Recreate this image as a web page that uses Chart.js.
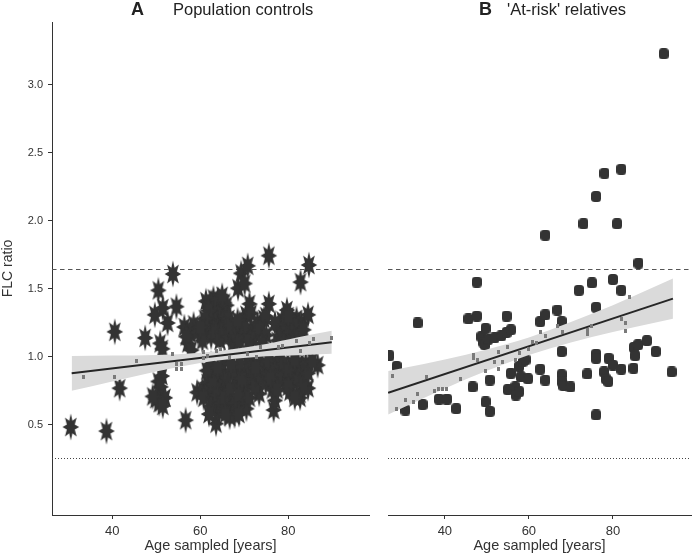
<!DOCTYPE html>
<html>
<head>
<meta charset="utf-8">
<script src="https://cdn.jsdelivr.net/npm/chart.js@4.4.0/dist/chart.umd.min.js"></script>
<style>
body { margin: 0; background: #fff; width: 697px; height: 555px; position: relative; overflow: hidden; font-family: "Liberation Sans", Arial, sans-serif; color: #222; }
canvas { position: absolute; top: 0; }
#chartA { left: 0; }
#chartB { left: 378px; }
.ttl { position: absolute; top: 1px; font-size: 16.5px; line-height: 1; white-space: nowrap; }
.ttl.big { top: 0; font-size: 18px; font-weight: bold; }
</style>
</head>
<body>
<canvas id="chartA" width="375" height="555"></canvas>
<canvas id="chartB" width="319" height="555"></canvas>
<div class="ttl big" style="left:131px">A</div>
<div class="ttl" style="left:173px">Population controls</div>
<div class="ttl big" style="left:479px">B</div>
<div class="ttl" style="left:507px">'At-risk' relatives</div>
<script>
//*************** data *******************

// population controls: [age, FLC ratio]
var controlsPoints = [
  [30.6,0.485],[38.7,0.455],[40.6,1.185],[41.7,0.77],[47.5,1.14],
  [49.7,1.31],[50.5,1.49],[51.5,1.36],[52.6,1.25],[53.8,1.61],[54.6,1.37],[50.9,1.10],[51.4,1.06],
  [50.5,0.82],[51.3,0.86],[51.0,0.78],[49.9,0.69],[50.7,0.66],[52.0,0.70],[51.5,0.64],[49.2,0.71],
  [56.7,0.535],[56.4,1.22],[57.2,1.10],[57.8,1.17],[58.5,1.24],[56.8,1.15],[58.0,1.05],
  [59.3,0.74],[60.5,0.76],[61.6,0.81],[62.0,0.74],[62.7,0.88],[63.0,0.70],[63.8,0.66],[63.6,0.51],
  [64.5,0.82],[65.3,0.78],[65.0,0.90],[66.0,0.72],[66.7,0.56],[67.5,0.68],[67.0,0.61],[68.0,0.80],
  [68.5,0.90],[69.0,0.635],[69.7,0.76],[70.4,0.88],[70.0,0.70],[71.0,0.80],[71.5,0.93],[72.7,0.855],
  [73.4,0.73],[72.0,0.95],[66.0,0.62],[67.8,0.57],[64.0,0.60],[62.5,0.95],[65.5,0.98],
  [60.8,0.70],[61.5,0.90],[62.5,0.64],[63.0,0.80],[64.0,0.72],[64.8,0.66],[65.5,0.70],[66.2,0.85],
  [66.8,0.76],[67.3,0.90],[68.0,0.66],[68.7,0.72],[69.5,0.84],[70.5,0.62],[71.2,0.70],[71.8,0.86],
  [70.8,0.95],[69.0,0.96],[67.0,0.95],[64.0,0.92],[62.0,0.58],[65.7,0.58],[68.8,0.58],[72.5,0.78],[73.8,0.85],
  [61.3,1.41],[62.0,1.36],[63.0,1.43],[64.5,1.37],[62.0,1.30],[63.5,1.25],[64.5,1.30],[65.5,1.40],
  [62.5,1.40],[63.5,1.35],[64.0,1.42],[65.0,1.33],[66.0,1.38],[62.8,1.27],[66.2,1.22],[63.0,1.22],
  [61.8,1.34],[65.8,1.30],
  [61.5,1.20],[62.5,1.15],[63.5,1.18],[64.5,1.12],[65.5,1.20],[66.5,1.15],[67.5,1.20],[68.5,1.12],
  [69.5,1.18],[70.5,1.15],[71.5,1.20],[72.0,1.13],[66.5,1.28],[67.5,1.10],[69.0,1.25],[70.4,1.31],
  [71.2,1.39],[71.6,1.32],[61.0,1.28],[65.0,1.45],
  [59.5,1.18],[60.5,1.12],[60.0,1.22],[68.0,1.16],[69.0,1.12],[70.0,1.22],[71.0,1.12],[72.5,1.18],
  [73.0,1.25],[67.0,1.23],[68.5,1.27],
  [68.6,1.505],[69.3,1.615],[70.8,1.67],[70.1,1.54],[75.6,1.745],[84.7,1.676],[82.8,1.55],
  [74.5,1.28],[75.6,1.39],[74.9,1.30],[73.5,1.20],[75.0,1.16],[74.0,1.10],
  [78.6,1.27],[79.7,1.345],[80.8,1.27],[81.9,1.28],[78.0,1.20],[79.0,1.15],[80.0,1.22],[81.0,1.15],
  [82.0,1.20],[83.0,1.25],[77.5,1.12],[83.0,1.12],[84.5,1.31],
  [77.0,1.25],[78.5,1.16],[79.5,1.24],[80.5,1.18],[81.5,1.24],[82.5,1.16],[83.5,1.20],[80.0,1.30],
  [79.0,1.10],[81.0,1.10],
  [74.9,0.93],[76.4,0.95],[78.6,0.93],[80.8,0.95],[82.3,0.95],[74.9,0.81],[76.4,0.76],[77.8,0.83],
  [79.3,0.88],[76.7,0.61],[77.0,0.68],[80.4,0.745],[82.7,0.70],[82.7,0.73],[84.5,0.77],[86.7,0.94],
  [81.0,0.85],[83.0,0.88],[84.0,0.95],[78.0,0.99],[75.5,0.88],[73.5,0.98],[72.5,0.92],[79.5,0.80],
  [75.5,0.97],[77.0,0.90],[78.0,0.86],[79.0,0.95],[80.0,0.90],[81.5,0.98],[82.0,0.82],[83.5,0.80],
  [84.5,0.88],[85.5,0.97],[76.0,0.84],[77.5,0.76],[80.0,0.78],[81.5,0.70]
];
var controlsFitted = [
  [33.6,0.855],[40.6,0.85],[45.6,0.97],[53.6,1.02],[54.6,0.95],[54.6,0.915],[55.7,0.95],[55.7,0.915],
  [60.7,1.035],[60.7,0.995],[61.7,1.01],[63.6,1.045],[64.6,1.06],[66.7,1.0],[70.8,1.02],[72.7,1.0],
  [73.7,1.07],[77.8,1.075],[78.7,1.08],[81.8,1.115],[82.9,1.045],[84.8,1.105],[85.8,1.13],[89.8,1.14]
];
var controlsLineAge = [30.8, 89.9];
var controlsLineFlc = [0.88, 1.108];
var controlsBandAge = [30.8, 40, 50, 60, 66, 75, 82, 89.9];
var controlsBandUpper = [1.007, 1.01, 1.014, 1.031, 1.051, 1.095, 1.143, 1.193];
var controlsBandLower = [0.752, 0.82, 0.894, 0.955, 0.981, 1.005, 1.013, 1.023];

// 'at-risk' relatives
var relativesPoints = [
  [26.8,1.01],[28.5,0.93],[30.6,0.61],[33.5,1.25],[34.7,0.65],[38.6,0.69],[40.5,0.69],[42.7,0.62],
  [45.6,1.28],[46.6,0.78],[47.6,1.30],[47.6,1.55],[48.7,1.15],[49.1,1.11],[49.5,1.09],[49.7,1.21],
  [49.7,0.67],[50.3,1.13],[50.7,0.83],[50.7,0.60],[51.8,1.14],[53.4,1.155],[54.7,1.18],[54.7,1.30],
  [55.0,0.76],[55.7,1.20],[55.7,0.88],[56.8,0.78],[56.9,0.72],[57.7,0.745],[57.7,0.93],[58.1,0.855],
  [58.5,0.965],[59.2,0.98],[59.8,0.84],[62.7,1.26],[62.7,0.91],[63.9,1.31],[63.9,0.83],[63.9,1.895],
  [66.8,1.345],[67.8,1.26],[67.8,1.04],[67.8,0.87],[67.8,0.82],[68.2,0.79],[69.9,0.78],[71.9,1.49],
  [73.0,1.98],[73.9,0.875],[75.0,1.545],[76.0,2.18],[76.0,1.365],[76.0,1.02],[76.0,0.99],[76.0,0.574],
  [77.9,0.89],[78.0,2.35],[78.3,0.84],[78.9,0.82],[79.0,0.99],[80.0,1.57],[80.0,0.94],[81.0,1.98],
  [82.0,2.38],[82.0,1.49],[82.0,0.91],[84.9,0.917],[85.0,1.07],[85.3,1.01],[86.0,1.09],[86.1,1.69],
  [88.1,1.12],[90.2,1.04],[92.1,3.23],[94.0,0.89]
];
var relativesFitted = [
  [27.5,0.86],[28.6,0.615],[30.7,0.68],[32.6,0.67],[33.6,0.73],[35.6,0.855],[37.6,0.75],[38.6,0.765],
  [39.5,0.765],[40.5,0.765],[43.7,0.84],[46.8,1.015],[46.8,0.99],[47.8,0.98],[49.7,0.90],[51.7,0.965],
  [52.8,1.04],[52.8,0.91],[53.8,0.965],[54.8,1.075],[56.7,0.98],[57.8,1.03],[59.8,1.06],[60.8,1.11],
  [61.7,1.10],[62.7,1.18],[63.9,1.155],[66.9,1.23],[68.0,1.18],[73.9,1.20],[73.9,1.17],[75.0,1.23],
  [82.0,1.28],[83.0,1.25],[83.0,1.19],[84.0,1.44]
];
var relativesLineAge = [26.5, 94.3];
var relativesLineFlc = [0.737, 1.429];
var relativesBandAge = [26.5, 35, 45, 55, 60, 65, 75, 85, 94.3];
var relativesBandUpper = [0.897, 0.949, 1.016, 1.098, 1.144, 1.198, 1.317, 1.449, 1.577];
var relativesBandLower = [0.577, 0.699, 0.836, 0.958, 1.014, 1.062, 1.147, 1.219, 1.281];

var xTicks = [40, 60, 80];
var yTicks = [0.5, 1.0, 1.5, 2.0, 2.5, 3.0];
var cutoffHigh = 1.65;
var cutoffLow = 0.26;

//*************** marker images *******************

function starImage() {
  var c = document.createElement("canvas");
  c.width = 18; c.height = 28;
  var g = c.getContext("2d");
  g.fillStyle = "#333";
  g.beginPath();
  for (var i = 0; i < 16; i++) {
    var a = -Math.PI / 2 + i * Math.PI / 8;
    var rx = i % 2 ? 4.3 : 8.3;
    var ry = i % 2 ? 6.8 : 13.4;
    var px = 9 + rx * Math.cos(a), py = 14 + ry * Math.sin(a);
    if (i == 0) g.moveTo(px, py); else g.lineTo(px, py);
  }
  g.closePath();
  g.fill();
  return c;
}

function roundSquare() {
  var c = document.createElement("canvas");
  var w = 10, h = 11, r = 3.5;
  c.width = w; c.height = h;
  var g = c.getContext("2d");
  g.fillStyle = "#333";
  g.beginPath();
  g.moveTo(r, 0);
  g.arcTo(w, 0, w, h, r);
  g.arcTo(w, h, 0, h, r);
  g.arcTo(0, h, 0, 0, r);
  g.arcTo(0, 0, w, 0, r);
  g.closePath();
  g.fill();
  return c;
}

function greySquare() {
  var c = document.createElement("canvas");
  c.width = 3; c.height = 4;
  var g = c.getContext("2d");
  g.fillStyle = "#7a7a7a";
  g.fillRect(0, 0, 3, 4);
  return c;
}

function toXY(pairs) {
  return pairs.map(function(p) { return { x: p[0], y: p[1] }; });
}

function zipXY(xs, ys) {
  return xs.map(function(x, i) { return { x: x, y: ys[i] }; });
}

// dashed / dotted cut-off lines
var cutoffPlugin = {
  id: "cutoffs",
  beforeDatasetsDraw: function(chart) {
    var ctx = chart.ctx, area = chart.chartArea, y = chart.scales.y;
    ctx.save();
    ctx.lineWidth = 1;
    ctx.strokeStyle = "#555";
    ctx.setLineDash([4.5, 3.5]);
    var py = Math.round(y.getPixelForValue(cutoffHigh)) + 0.5;
    ctx.beginPath(); ctx.moveTo(area.left, py); ctx.lineTo(area.right, py); ctx.stroke();
    ctx.setLineDash([1, 2]);
    ctx.strokeStyle = "#444";
    py = Math.round(y.getPixelForValue(cutoffLow)) + 0.5;
    ctx.beginPath(); ctx.moveTo(area.left, py); ctx.lineTo(area.right, py); ctx.stroke();
    ctx.restore();
  }
};

Chart.defaults.font.family = '"Liberation Sans", Arial, sans-serif';
Chart.defaults.color = "#333";

function makePanel(id, pts, marker, fitted, lineAge, lineFlc, bandAge, bandUp, bandLo, xMin, xMax, showY, padLeft) {
  return new Chart(document.getElementById(id), {
    type: "scatter",
    data: {
      datasets: [
        { data: toXY(fitted), pointStyle: greySquare(), pointRadius: 2, clip: 0 },
        { type: "line", data: zipXY(lineAge, lineFlc), borderColor: "#262626", borderWidth: 2, pointRadius: 0, fill: false },
        { type: "line", data: zipXY(bandAge, bandUp), borderWidth: 0, pointRadius: 0, cubicInterpolationMode: "monotone",
          backgroundColor: "#dadada", fill: "+1" },
        { type: "line", data: zipXY(bandAge, bandLo), borderWidth: 0, pointRadius: 0, cubicInterpolationMode: "monotone", fill: false },
        { data: toXY(pts), pointStyle: marker, pointRadius: 5, clip: 0 }
      ]
    },
    options: {
      responsive: false,
      animation: false,
      events: [],
      layout: { padding: { top: 22, left: padLeft, right: 0, bottom: 0 } },
      plugins: { legend: { display: false }, tooltip: { enabled: false } },
      scales: {
        x: {
          type: "linear", min: xMin, max: xMax,
          afterFit: function(s) { s.height = 40; },
          afterBuildTicks: function(s) { s.ticks = xTicks.map(function(v) { return { value: v }; }); },
          ticks: { padding: 5, font: { size: 13 }, color: "#333", callback: function(v) { return String(v); } },
          grid: { display: true, drawOnChartArea: false, drawTicks: true, tickLength: 4, color: "#333" },
          border: { display: true, color: "#333", width: 1 },
          title: { display: true, text: "Age sampled [years]", font: { size: 14.5 }, color: "#333", padding: { top: 0, bottom: 0 } }
        },
        y: {
          display: showY, min: -0.162, max: 3.463,
          // only the left panel gets a y axis strip
          afterFit: function(s) { s.width = showY ? 52 : 0; },
          afterBuildTicks: function(s) { s.ticks = yTicks.map(function(v) { return { value: v }; }); },
          ticks: { padding: 5, font: { size: 11 }, color: "#333", callback: function(v) { return v.toFixed(1); } },
          grid: { display: true, drawOnChartArea: false, drawTicks: true, tickLength: 4, color: "#333" },
          border: { display: true, color: "#333", width: 1 },
          title: { display: true, text: "FLC ratio", font: { size: 14 }, color: "#333", padding: 0 }
        }
      }
    },
    plugins: [cutoffPlugin]
  });
}

var chartA = makePanel("chartA", controlsPoints, starImage(), controlsFitted, controlsLineAge, controlsLineFlc,
  controlsBandAge, controlsBandUpper, controlsBandLower, 26.33, 98.36, true, 0);
var chartB = makePanel("chartB", relativesPoints, roundSquare(), relativesFitted, relativesLineAge, relativesLineFlc,
  relativesBandAge, relativesBandUpper, relativesBandLower, 26.46, 98.6, false, 10);
</script>
</body>
</html>
